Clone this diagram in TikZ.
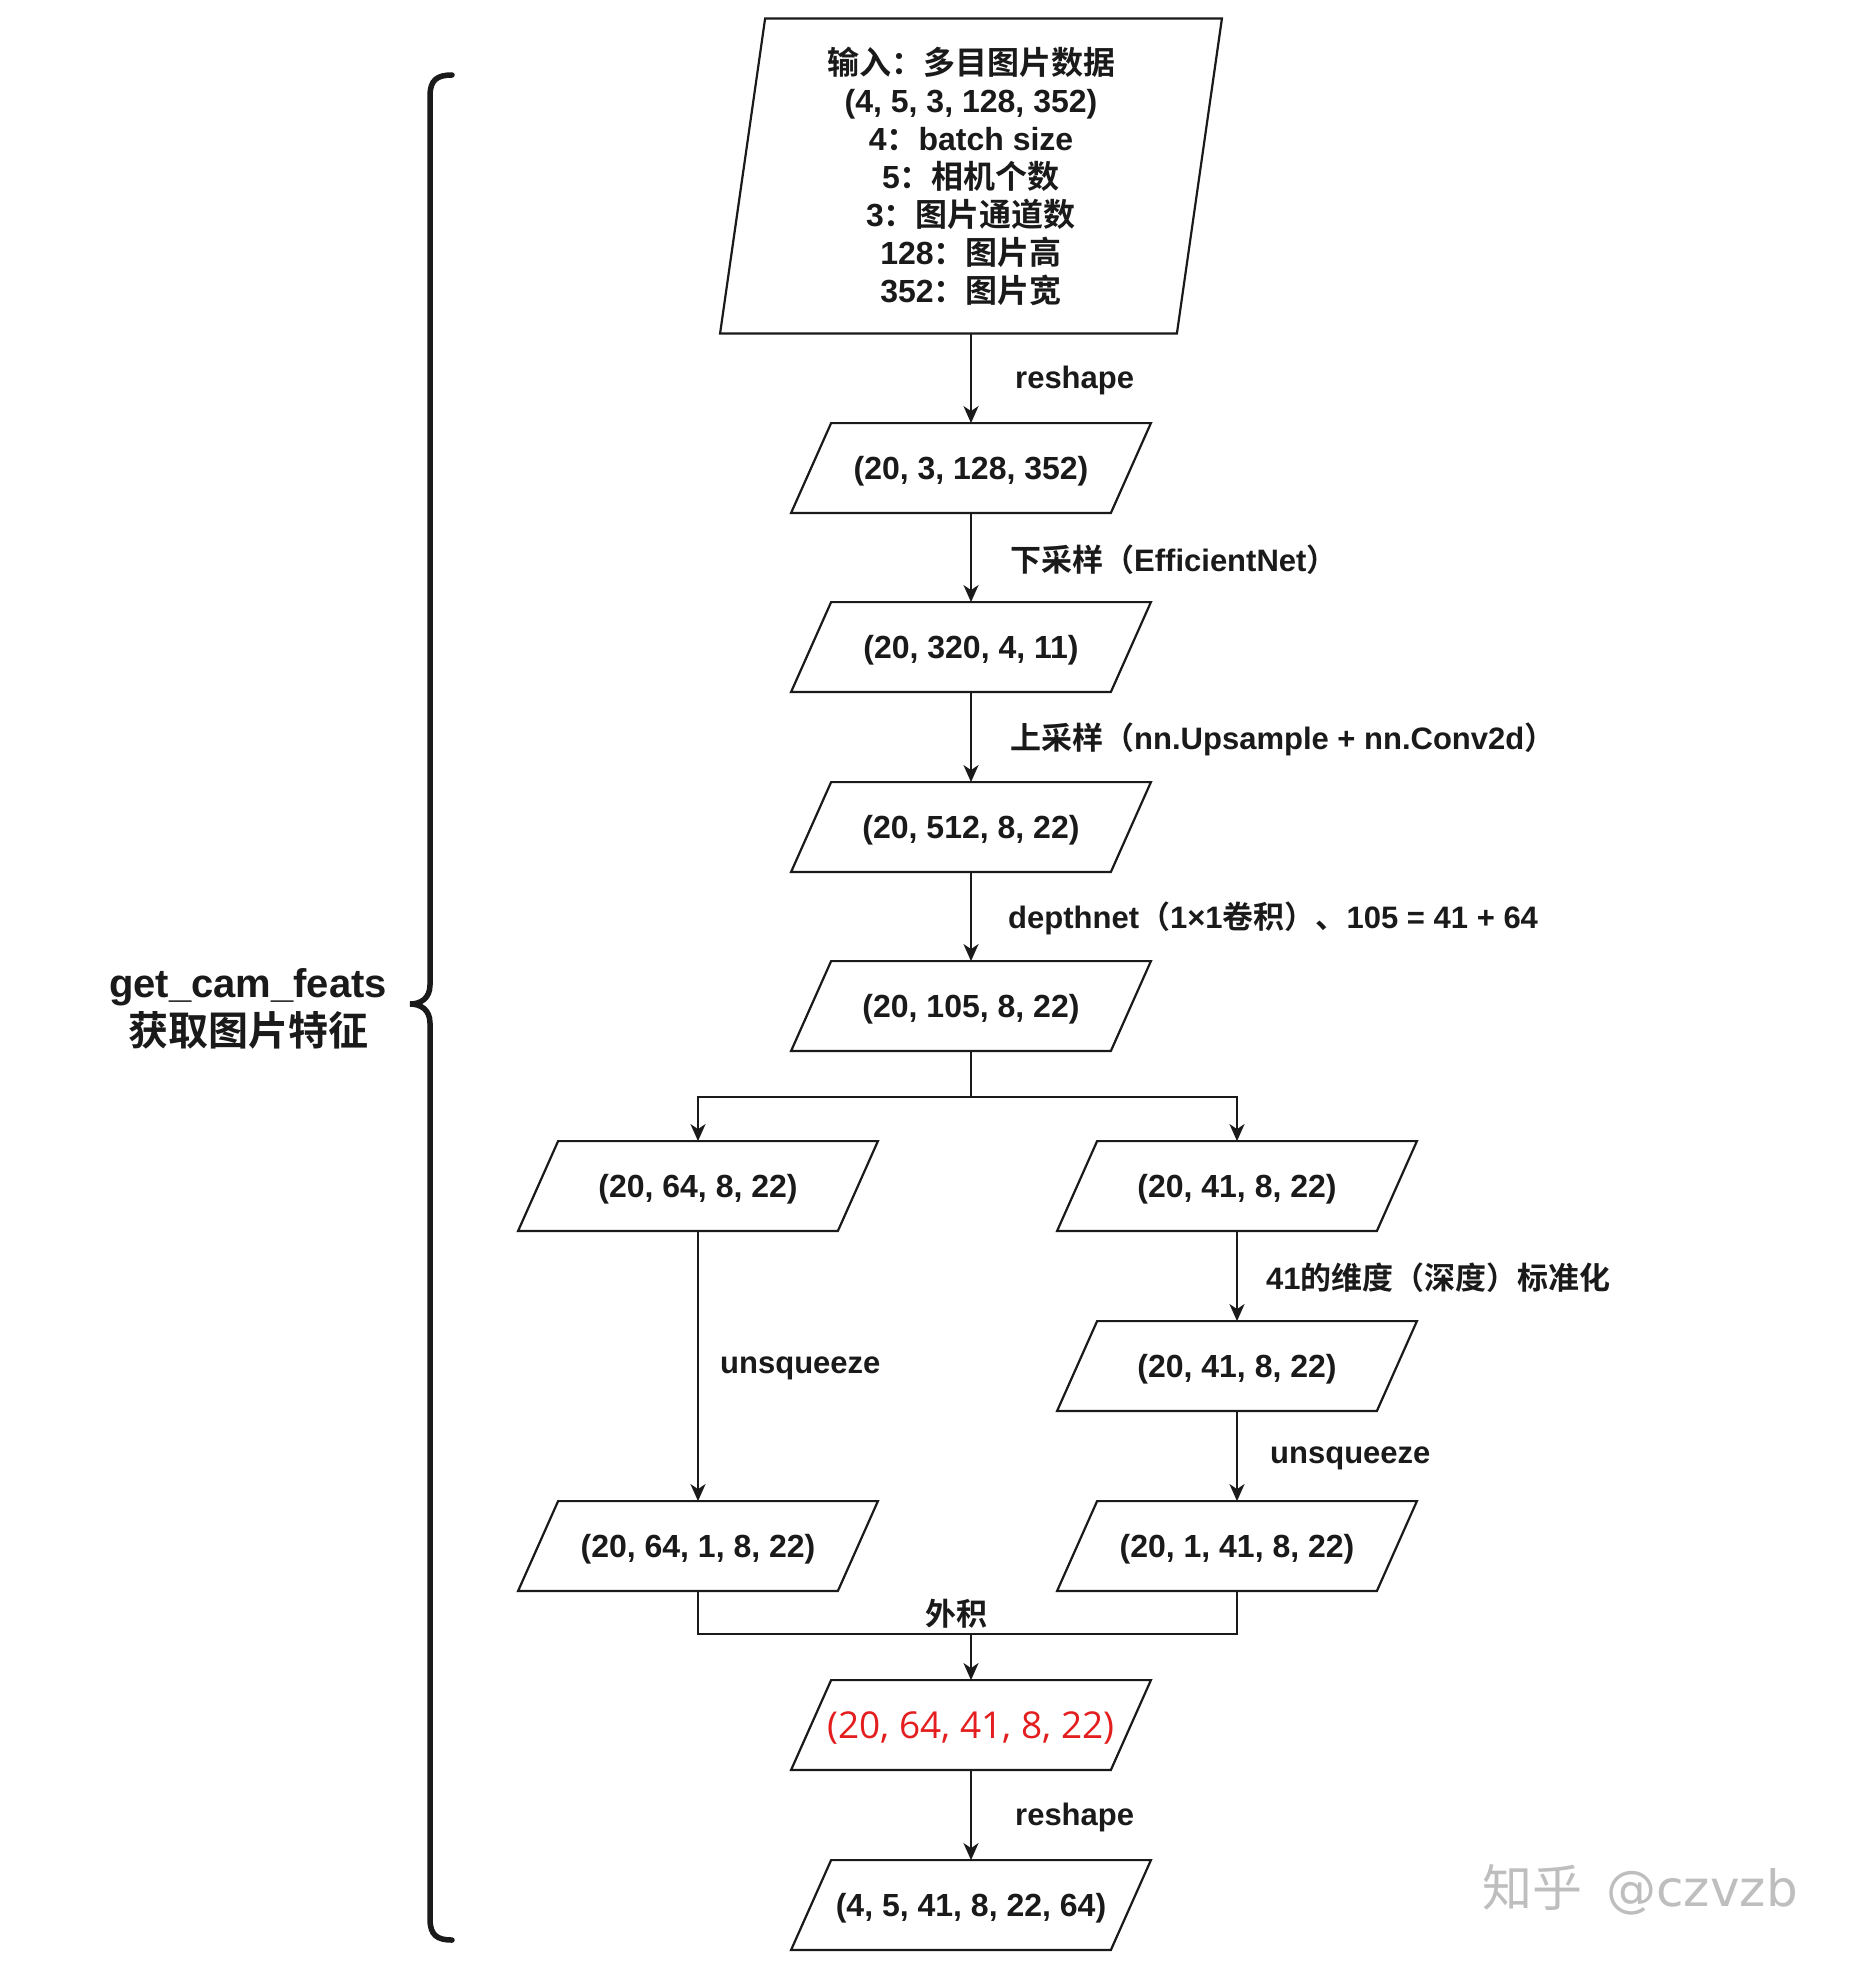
\documentclass[tikz,border=0pt]{standalone}
\usepackage{fontspec}
\setmainfont{Liberation Sans}
\newfontfamily\zhfont{Noto Sans CJK SC}[BoldFont={* Bold}]
\newfontfamily\redfont{Open Sans}
\newfontfamily\wmfont{DejaVu Sans}
\usetikzlibrary{arrows.meta}
\newcommand\zh[1]{{\zhfont #1}}
\definecolor{ink}{HTML}{1A1A1A}
\definecolor{redtxt}{HTML}{E41E1E}
\definecolor{wm}{HTML}{BEBEBE}
% draws the parallelogram outline round a (rectangular, invisible) node
\newcommand\drawpara[2][10pt]{%
  \draw[boxline] ([xshift=-#1]#2.south west) -- ([xshift=#1]#2.north west)
    -- ([xshift=#1]#2.north east) -- ([xshift=-#1]#2.south east) -- cycle;}
\begin{document}
\begin{tikzpicture}[x=0.5pt,y=-0.5pt,
  para/.style={rectangle, minimum width=159.5pt, minimum height=44.5pt,
    inner sep=0pt, text=ink, text height=11.5pt, text depth=0pt,
    font=\bfseries\fontsize{16}{19}\selectfont},
  boxline/.style={draw=ink, line width=1.1pt, line join=miter},
  arr/.style={draw=ink, line width=1.2pt, -{Stealth[length=8.5pt,width=7.5pt,inset=2.5pt]}},
  lin/.style={draw=ink, line width=1.2pt},
  lbl/.style={anchor=west, inner sep=0pt, text=ink, yshift=-1pt, font=\bfseries\fontsize{15.5}{18}\selectfont},
]
\useasboundingbox (0,0) rectangle (1852,1964);
\fill[white] (0,0) rectangle (1852,1964);

% nodes
\node[para, minimum width=228pt, minimum height=157pt, align=center,
  text height=, text depth=] (in) at (971,176)
  {\zh{输入：多目图片数据}\\(4, 5, 3, 128, 352)\\4\zh{：}batch size\\5\zh{：相机个数}\\3\zh{：图片通道数}\\128\zh{：图片高}\\352\zh{：图片宽}};
\node[para] (b2) at (971,468) {(20, 3, 128, 352)};
\node[para] (b3) at (971,647) {(20, 320, 4, 11)};
\node[para] (b4) at (971,827) {(20, 512, 8, 22)};
\node[para] (b5) at (971,1006) {(20, 105, 8, 22)};
\node[para] (b6l) at (698,1186) {(20, 64, 8, 22)};
\node[para] (b6r) at (1237,1186) {(20, 41, 8, 22)};
\node[para] (b7r) at (1237,1366) {(20, 41, 8, 22)};
\node[para] (b8l) at (698,1546) {(20, 64, 1, 8, 22)};
\node[para] (b8r) at (1237,1546) {(20, 1, 41, 8, 22)};
\node[para, font=\redfont\fontsize{18.5}{22}\selectfont, text=redtxt, text height=13.5pt] (b9) at (971,1725) {(20, 64, 41, 8, 22)};
\node[para] (b10) at (971,1905) {(4, 5, 41, 8, 22, 64)};

% parallelogram outlines
\drawpara[11.25pt]{in}
\foreach \n in {b2,b3,b4,b5,b6l,b6r,b7r,b8l,b8r,b9,b10} {\drawpara{\n}}

% connectors
\draw[arr] (in) -- node[lbl, xshift=21.5pt]{reshape} (b2);
\draw[arr] (b2) -- node[lbl, xshift=19pt]{\zh{下采样（}EfficientNet\zh{）}} (b3);
\draw[arr] (b3) -- node[lbl, xshift=19pt]{\zh{上采样（}nn.Upsample + nn.Conv2d\zh{）}} (b4);
\draw[arr] (b4) -- node[lbl, xshift=18pt]{depthnet\zh{（}1×1\zh{卷积）、}105 = 41 + 64} (b5);

\coordinate (split) at (971,1097);
\draw[lin] (b5) -- (split);
\draw[arr] (split) -| (b6l);
\draw[arr] (split) -| (b6r);

\draw[arr] (b6l) -- node[lbl, xshift=10.5pt]{unsqueeze} (b8l);
\draw[arr] (b6r) -- node[lbl, xshift=14pt]{41\zh{的维度（深度）标准化}} (b7r);
\draw[arr] (b7r) -- node[lbl, xshift=16pt]{unsqueeze} (b8r);

\coordinate (mj) at (971,1634);
\draw[lin] (b8l) -- (b8l |- mj) -| (b8r);
\draw[arr] (mj) -- (b9);
\node[lbl, anchor=center] (outer) at (956,1612) {\zh{外积}};

\draw[arr] (b9) -- node[lbl, xshift=21.5pt]{reshape} (b10);

% brace and side label
\draw[ink, line width=2.75pt, line cap=round]
  (452,75) .. controls (437,75) and (430,80) .. (430,96)
  -- (430,985) .. controls (430,998) and (421,1004) .. (410,1004)
  .. controls (421,1004) and (430,1010) .. (430,1023)
  -- (430,1919) .. controls (430,1935) and (437,1940) .. (452,1940);
\node[align=center, text=ink, font=\bfseries\fontsize{20}{24}\selectfont] (side) at (248,1009)
  {get\_cam\_feats\\\zh{获取图片特征}};

% watermark
\node[anchor=west, inner sep=0pt, text=wm, font=\fontsize{25}{30}\selectfont] (wmk) at (1482,1890)
  {\zh{知乎}\hspace{12pt}{\wmfont @czvzb}};
\end{tikzpicture}
\end{document}
